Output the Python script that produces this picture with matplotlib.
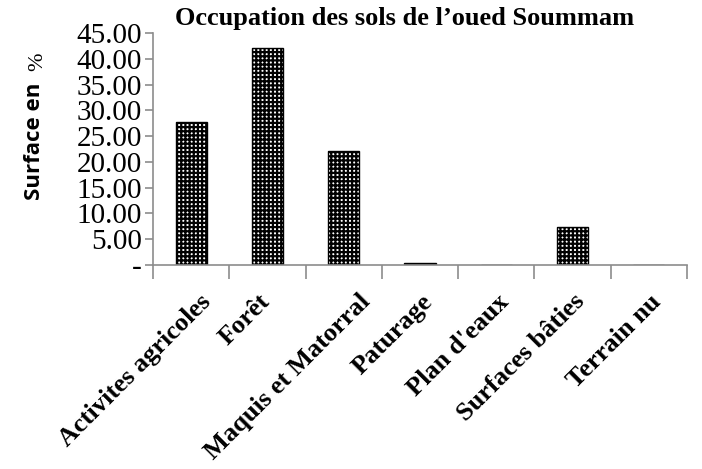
import matplotlib
matplotlib.use("Agg")
import matplotlib.pyplot as plt
import numpy as np

categories = ["Activites agricoles", "Forêt", "Maquis et Matorral", "Paturage",
              "Plan d'eaux", "Surfaces bâties", "Terrain nu"]
values = [27.8, 42.1, 22.1, 0.3, 0.05, 7.3, 0.0]
yticks = [0, 5, 10, 15, 20, 25, 30, 35, 40, 45]
ytick_labels = ["-", "5.00", "10.00", "15.00", "20.00", "25.00", "30.00", "35.00", "40.00", "45.00"]

# layout nudges for the rotated category labels (in category units)
label_nudge = [0.09, -0.13, 0.18, 0.0, 0.0, 0.0, 0.0]

plt.rcParams['hatch.linewidth'] = 1.6
fig = plt.figure(figsize=(7.02, 4.69), dpi=100)
ax = fig.add_axes([153/702, 1-265/469, (687-153)/702, (265-33)/469])

x = np.arange(len(categories))
ax.bar(x, values, width=0.41, facecolor="white", edgecolor="black", hatch="++++", linewidth=0)
ax.bar(x, values, width=0.41, facecolor="none", edgecolor="black", linewidth=1.0)

ax.set_xlim(-0.5, len(categories) - 0.5)
ax.set_ylim(0, 45)
ax.set_yticks(yticks)
ax.set_yticklabels(ytick_labels, family="Liberation Serif", fontsize=21)
ax.set_xticks(np.arange(len(categories) + 1) - 0.5)
ax.set_xticklabels([])
ax.tick_params(axis="x", length=10, color="#8c8c8c", width=1.2)
ax.tick_params(axis="y", length=6, color="#8c8c8c", width=1.2, pad=2)
for s in ["top", "right"]:
    ax.spines[s].set_visible(False)
for s in ["left", "bottom"]:
    ax.spines[s].set_color("#8c8c8c")
    ax.spines[s].set_linewidth(1.2)

for i, c in enumerate(categories):
    ax.text(i + 0.01 + label_nudge[i], -4.85, c, rotation=45, ha="right", va="top",
            rotation_mode="anchor", family="Liberation Serif", fontweight="bold",
            fontsize=19, transform=ax.transData)

fig.text(405/702, 1-18/469, "Occupation des sols de l’oued Soummam", ha="center", va="center",
         family="Liberation Serif", fontweight="bold", fontsize=19)
fig.text(35/702, 1-141/469, "Surface en", rotation=90, ha="center", va="center",
         family="Open Sans", fontweight="bold", fontsize=16)
fig.text(38/702, 1-62/469, "%", rotation=90, ha="center", va="center",
         family="Liberation Serif", fontsize=16)

fig.savefig("out.png", dpi=100)
